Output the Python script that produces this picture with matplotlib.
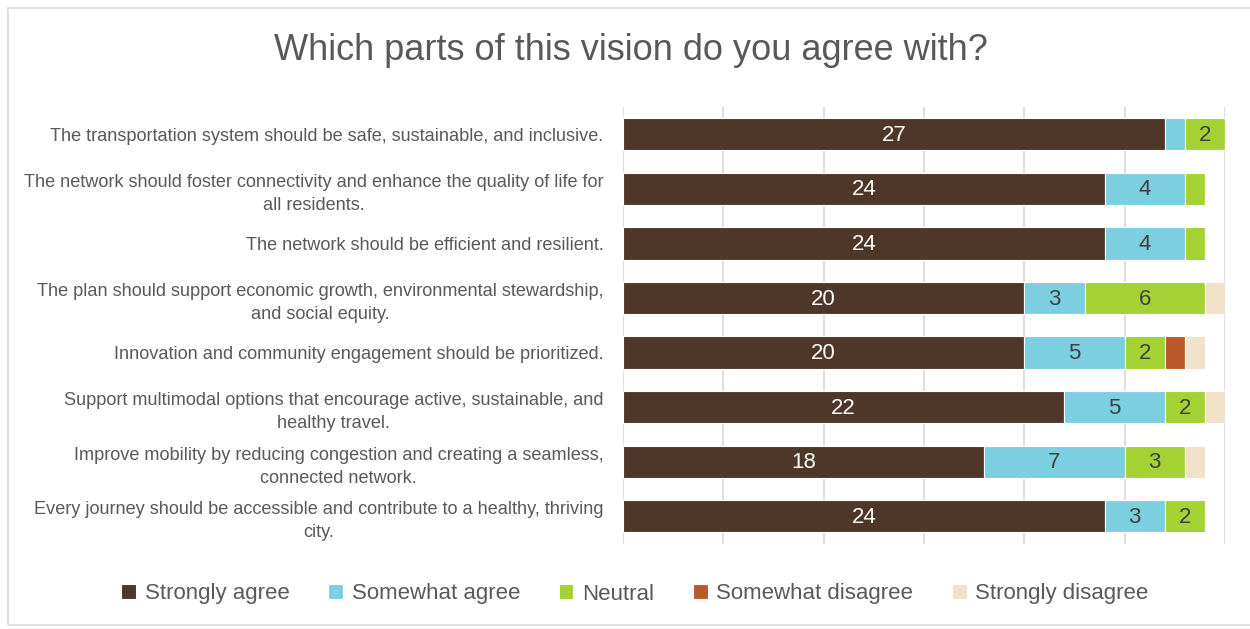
import matplotlib.pyplot as plt
from matplotlib.patches import Rectangle

# survey statements, top to bottom
statements = [
    "The transportation system should be safe, sustainable, and inclusive.",
    "The network should foster connectivity and enhance the quality of life for\nall residents.",
    "The network should be efficient and resilient.",
    "The plan should support economic growth, environmental stewardship,\nand social equity.",
    "Innovation and community engagement should be prioritized.",
    "Support multimodal options that encourage active, sustainable, and\nhealthy travel.",
    "Improve mobility by reducing congestion and creating a seamless,\nconnected network.",
    "Every journey should be accessible and contribute to a healthy, thriving\ncity.",
]

strongly_agree = [27, 24, 24, 20, 20, 22, 18, 24]
somewhat_agree = [1, 4, 4, 3, 5, 5, 7, 3]
neutral = [2, 1, 1, 6, 2, 2, 3, 2]
somewhat_disagree = [0, 0, 0, 0, 1, 0, 0, 0]
strongly_disagree = [0, 0, 0, 1, 1, 1, 1, 0]

series_names = ["Strongly agree", "Somewhat agree", "Neutral",
                "Somewhat disagree", "Strongly disagree"]
series = [strongly_agree, somewhat_agree, neutral, somewhat_disagree, strongly_disagree]
colors = ["#4E3629", "#7CCFE0", "#A5D233", "#BA5A2A", "#F0E1C8"]
text_colors = ["white", "#404040", "#404040", "#404040", "#404040"]

plt.rcParams['font.family'] = ['Liberation Sans', 'DejaVu Sans']

fig = plt.figure(figsize=(12.5, 6.29), dpi=100)
ax = fig.add_axes([623 / 1250, 1 - 543.5 / 629, 602 / 1250, 436.5 / 629])

# light frame around the chart area
fig.patches.append(Rectangle((8 / 1250, 4 / 629), 1.0, 617 / 629, transform=fig.transFigure,
                             fill=False, edgecolor="#d9d9d9", linewidth=1.2))

y = list(range(len(statements)))
left = [0] * len(statements)
for name, vals, col, tcol in zip(series_names, series, colors, text_colors):
    bars = ax.barh(y, vals, left=left, height=0.59, color=col, edgecolor="white",
                   linewidth=0.8, label=name, zorder=3)
    for b, v in zip(bars, vals):
        if v >= 2:
            ax.text(b.get_x() + b.get_width() / 2, b.get_y() + b.get_height() / 2 + 0.02, str(v),
                    ha="center", va="center", color=tcol, fontsize=16, zorder=4)
    left = [l + v for l, v in zip(left, vals)]

ax.set_xlim(0, 30)
ax.set_ylim(len(statements) - 0.5, -0.5)
ax.set_xticks(range(0, 31, 5))
ax.set_xticklabels([])
ax.tick_params(axis="x", length=0)
ax.tick_params(axis="y", length=0, pad=14)
ax.xaxis.grid(True, color="#d9d9d9", linewidth=1.2, zorder=0)
ax.set_yticks(y)
ax.set_yticklabels(statements, fontsize=13.1, color="#595959", multialignment="center",
                   linespacing=1.45)
for s in ax.spines.values():
    s.set_visible(False)

fig.text(631 / 1250, 1 - 51 / 629, "Which parts of this vision do you agree with?",
         ha="center", va="center", fontsize=26, color="#595959")

fig.legend(loc="center", bbox_to_anchor=(635 / 1250, 1 - 594 / 629), ncol=5,
           frameon=False, fontsize=16, labelcolor="#595959", handlelength=0.65,
           handleheight=0.65, handletextpad=0.4, columnspacing=1.75)

fig.savefig("out.png", dpi=100, facecolor="white")
